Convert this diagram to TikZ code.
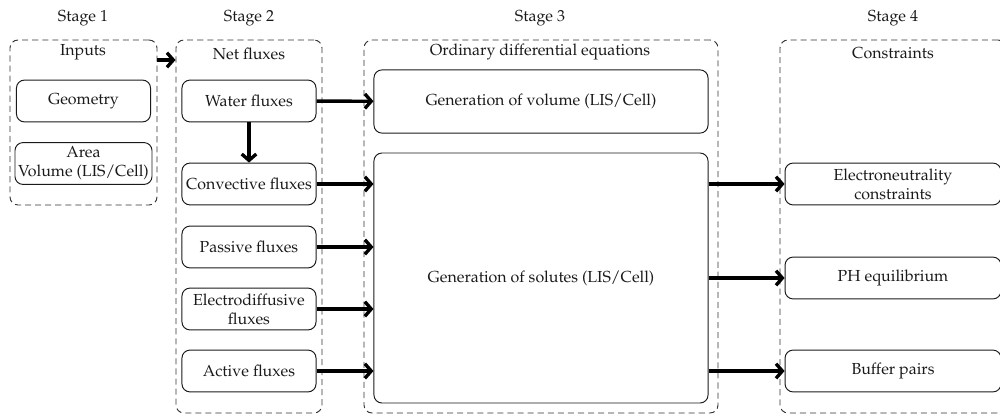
\documentclass[tikz,border=0pt]{standalone}
\usepackage[T1]{fontenc}
\usepackage{mathpazo}
\usetikzlibrary{positioning,arrows.meta,fit,calc}
\definecolor{ink}{HTML}{1A1A1A}
\definecolor{frame}{HTML}{333333}
\tikzset{
  blk/.style ={draw=ink, line width=.6pt, rounded corners=5pt, align=center, minimum width=2.95cm, minimum height=.92cm, inner sep=2pt, text=ink},
  bigblk/.style={blk, minimum width=7.35cm},
  cnblk/.style={blk, minimum width=4.75cm},
  stg/.style ={draw=frame, line width=.6pt, dash pattern=on 3.8pt off 2.5pt, rounded corners=5pt, inner sep=0pt},
  ttl/.style ={text=ink, inner sep=1pt},
  ln/.style  ={draw=black, line width=2.1pt, -{Straight Barb[length=1.4mm,width=3.2mm]}},
}

\begin{document}
\begin{tikzpicture}
    \useasboundingbox (0,0) rectangle (22,-9.174);
    % stage labels
    \node[ttl] (s1) at (1.826,-0.4) {Stage 1};
    \node[ttl] (s2) at (5.478,-0.4) {Stage 2};
    \node[ttl] (s3) at (11.88,-0.4) {Stage 3};
    \node[ttl] (s4) at (19.646,-0.4) {Stage 4};

    % dashed stage frames
    \node[stg, fit={(0.22,-0.88) (3.454,-4.51)}] (inp) {};
    \node[stg, fit={(3.872,-0.88) (7.084,-9.086)}] (net) {};
    \node[stg, fit={(8.008,-0.88) (15.796,-9.086)}] (ode) {};
    \node[stg, fit={(17.16,-0.88) (22.13,-9.086)}] (con) {};
    \node[ttl] (tinp) at (1.826,-1.14) {Inputs};
    \node[ttl] (tnet) at (5.478,-1.18) {Net fluxes};
    \node[ttl] (tode) at (11.88,-1.14) {Ordinary differential equations};
    \node[ttl] (tcon) at (19.646,-1.16) {Constraints};

    % stage 1
    \node[blk] (geo)  at (1.837,-2.222) {Geometry};
    \node[blk] (area) at (1.837,-3.597) {Area\\Volume (LIS/Cell)};
    % stage 2
    \node[blk] (water) at (5.478,-2.222) {Water fluxes};
    \node[blk] (conv)  at (5.478,-4.048) {Convective fluxes};
    \node[blk] (pass)  at (5.478,-5.434) {Passive fluxes};
    \node[blk] (elec)  at (5.478,-6.798) {Electrodiffusive\\fluxes};
    \node[blk] (act)   at (5.478,-8.162) {Active fluxes};
    % stage 3
    \node[bigblk, minimum height=1.39cm] (vol) at (11.902,-2.233) {Generation of volume (LIS/Cell)};
    \node[bigblk, minimum height=5.5cm]  (sol) at (11.902,-6.116) {Generation of solutes (LIS/Cell)};
    % stage 4
    \node[cnblk] (elneu) at (19.646,-4.048) {Electroneutrality\\constraints};
    \node[cnblk] (ph)    at (19.646,-6.116) {PH equilibrium};
    \node[cnblk] (buf)   at (19.646,-8.162) {Buffer pairs};

    % arrows
    \draw[ln] (inp.east |- 0,-1.32) -- (net.west |- 0,-1.32);
    \draw[ln] (water) -- (vol);
    \draw[ln] (water) -- (conv);
    \foreach \n in {conv,pass,elec,act} \draw[ln] (\n.east) -- (sol.west |- \n.east);
    \foreach \n in {elneu,ph,buf} \draw[ln] (sol.east |- \n.west) -- (\n.west);
\end{tikzpicture}
\end{document}
